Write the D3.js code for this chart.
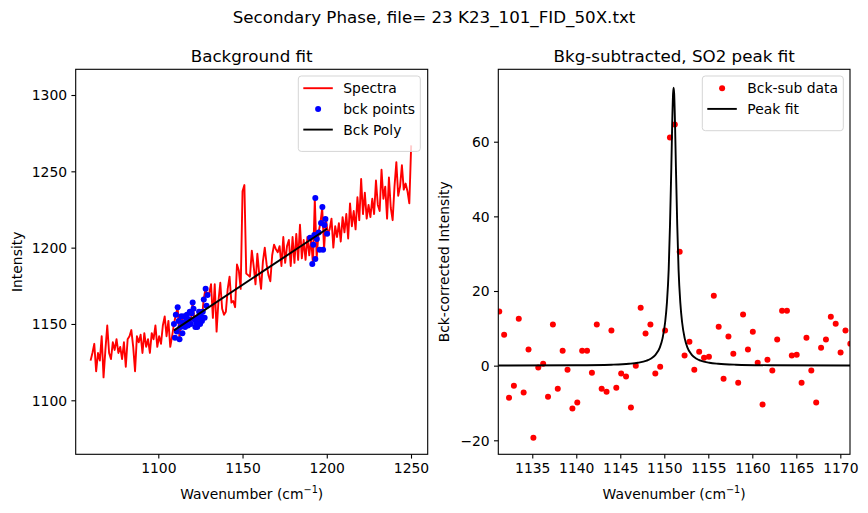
<!DOCTYPE html>
<html>
<head>
<meta charset="utf-8">
<script src="https://cdn.jsdelivr.net/npm/d3@7"></script>
<style>
    body { margin: 0; background: #fff; }
    svg text { font-family: "DejaVu Sans", sans-serif; fill: #000; }
</style>
</head>
<body>
<div id="chart"></div>
<script>

// == DATA == //
// full spectrum (left panel), evenly sampled wavenumber grid
const spectrumStart = 1059.8;
const spectrumStep = 1.1;
const spectrumIntensity = [
    1126, 1131, 1137, 1119, 1131, 1126, 1142, 1115, 1133, 1149,
    1131, 1127, 1138, 1133, 1140, 1131, 1135, 1127, 1138, 1122,
    1140, 1142, 1146, 1135, 1119, 1142, 1138, 1143, 1131, 1144,
    1135, 1140, 1131, 1144, 1140, 1149, 1135, 1142, 1137, 1149,
    1155, 1142, 1152, 1135, 1142,
    1150, 1156, 1161, 1140, 1155, 1151, 1148, 1156, 1153, 1150,
    1164, 1153, 1151, 1154, 1150, 1152, 1166, 1173, 1169, 1170,
    1176, 1154, 1176, 1145, 1165, 1177, 1160, 1156, 1158, 1173,
    1181, 1164, 1165, 1161, 1189, 1185, 1173, 1237, 1241, 1183,
    1182, 1181, 1198, 1188, 1176, 1196, 1183, 1173, 1191, 1200,
    1189, 1182, 1178, 1195, 1202, 1199, 1197,
    1201, 1188, 1207, 1190, 1201, 1205, 1188, 1207, 1190, 1209,
    1192, 1215, 1193, 1205, 1192, 1207, 1195,
    1206, 1189, 1232, 1193, 1210, 1216, 1226, 1199, 1219, 1209,
    1212, 1219, 1200, 1214, 1207, 1216, 1204, 1220, 1210, 1222,
    1206, 1229, 1214, 1224, 1212, 1233, 1218, 1245, 1222, 1236,
    1219, 1228, 1220, 1232, 1222, 1244, 1228, 1224, 1251, 1232,
    1240, 1219, 1246, 1226, 1218, 1240, 1256, 1234, 1240, 1254,
    1238, 1242, 1237, 1229, 1267
];

// background points
const bckWave = [
    1109.3, 1109.9, 1110.4, 1111.0, 1111.5, 1112.1, 1112.6, 1113.2, 1113.7, 1114.3,
    1114.8, 1115.4, 1115.9, 1116.5, 1117.0, 1117.6, 1118.2, 1118.7, 1119.3, 1119.8,
    1120.4, 1120.9, 1121.5, 1122.0, 1122.6, 1123.1, 1123.7, 1124.2, 1124.8, 1125.3,
    1125.9, 1126.4, 1127.0, 1127.5, 1128.1, 1128.6, 1129.2,
    1190.1, 1191.4, 1192.0, 1192.6, 1193.2, 1193.2, 1194.1, 1195.2, 1195.8, 1196.6,
    1197.4, 1197.8, 1198.6, 1199.2, 1200.2
];
const bckIntensity = [
    1150, 1141, 1156, 1145, 1161, 1152, 1140, 1148, 1155, 1144,
    1151, 1155, 1148, 1152, 1156, 1149, 1153, 1158, 1150, 1157,
    1164, 1160, 1153, 1148, 1151, 1148, 1154, 1158, 1150, 1155,
    1152, 1158, 1166, 1154, 1173, 1162, 1169,
    1206.5, 1189.3, 1201.9, 1208.3, 1232.5, 1192.6, 1205.7, 1210, 1198.7, 1216.1,
    1226.6, 1198.7, 1214.8, 1218.8, 1209.1
];

// background polynomial (linear)
const polyWave = [1109.3, 1200.2];
const polyIntensity = [1145.8, 1212.4];

// background-subtracted data (right panel)
const subStart = 1131.25;
const subStep = 0.554;
const subIntensity = [
    14.5, 8.3, -8.6, -5.4, 12.6, -7.2, 4.3, -19.3, -0.5, 0.5,
    -8.3, 11.0, -6.2, 4.0, -1.1, -11.5, -9.9, 4.0, 4.0, -1.9,
    11.0, -6.2, -7.0, 9.4, -5.9, -2.1, -2.9, -11.2, 0.0, 15.5,
    8.6, 11.0, -2.1, -0.3, 9.4, 61.1, 64.6, 30.5, 2.7, 6.4,
    -1.1, 3.7, 2.1, 2.4, 18.7, 10.4, -3.5, 7.8, 3.2, -4.6,
    13.7, 4.3, 9.1, 0.8, -10.4, 1.6, -1.3, 7.0, 14.7, 14.7,
    2.7, 2.9, -4.6, 7.5, -1.3, -9.9, 4.8, 7.0, 13.1, 11.2,
    3.5, 9.4, 5.9
];

// peak fit curve
const fitWave = [
    1131.14, 1140, 1144, 1146, 1147, 1148, 1148.5, 1149, 1149.5, 1149.8,
    1150.1, 1150.3, 1150.5, 1150.65, 1150.8, 1150.9, 1151.0, 1151.06, 1151.12, 1151.22,
    1151.32, 1151.47, 1151.62, 1151.82, 1152.02, 1152.32, 1152.62, 1153.12, 1153.62, 1154.12,
    1155.12, 1156.12, 1158.12, 1162, 1171.1
];
const fitIntensity = [
    0.03, 0.10, 0.26, 0.50, 0.77, 1.35, 1.92, 2.91, 4.90, 7.3,
    11.7, 16.9, 25.8, 37.8, 53.2, 64.9, 73.0, 74.5, 73.0, 64.9,
    53.2, 37.8, 25.8, 16.9, 11.7, 7.3, 4.9, 2.91, 1.92, 1.35,
    0.77, 0.50, 0.26, 0.11, 0.03
];

// ticks
const leftXTicks = [1100, 1150, 1200, 1250];
const leftYTicks = [1100, 1150, 1200, 1250, 1300];
const rightXTicks = [1135, 1140, 1145, 1150, 1155, 1160, 1165, 1170];
const rightYTicks = [-20, 0, 20, 40, 60];

const suptitle = "Secondary Phase, file= 23 K23_101_FID_50X.txt";

// == SVG == //
const width = 868, height = 513;
const fs = 13.9;      // tick / label font size
const tfs = 16.7;     // title font size
const lw = 1.9;       // line width

const svg = d3.select("#chart").append("svg")
    .attr("width", width)
    .attr("height", height);

svg.append("text")
    .attr("x", 434).attr("y", 23)
    .attr("text-anchor", "middle")
    .style("font-size", tfs + "px")
    .text(suptitle);

// build one panel
function makePanel(cfg) {
    let g = svg.append("g");

    let x = d3.scaleLinear().domain(cfg.xDomain).range([cfg.left, cfg.right]);
    let y = d3.scaleLinear().domain(cfg.yDomain).range([cfg.bottom, cfg.top]);

    // clip
    svg.append("defs").append("clipPath").attr("id", cfg.id + "-clip")
        .append("rect")
        .attr("x", cfg.left).attr("y", cfg.top)
        .attr("width", cfg.right - cfg.left).attr("height", cfg.bottom - cfg.top);

    let plot = g.append("g").attr("clip-path", `url(#${cfg.id}-clip)`);

    // axes
    let xAxis = d3.axisBottom(x).tickValues(cfg.xTicks).tickSize(4.3).tickPadding(4.3).tickFormat(d3.format("d"));
    let yAxis = d3.axisLeft(y).tickValues(cfg.yTicks).tickSize(4.3).tickPadding(4.3).tickFormat(d3.format("d"));

    let gx = g.append("g").attr("transform", `translate(0,${cfg.bottom})`).call(xAxis);
    let gy = g.append("g").attr("transform", `translate(${cfg.left},0)`).call(yAxis);
    [gx, gy].forEach(a => {
        a.select(".domain").remove();
        a.selectAll("line").attr("stroke", "#000").attr("stroke-width", 1.1);
        a.selectAll("text").style("font-size", fs + "px").attr("fill", "#000")
            .style("font-family", "DejaVu Sans, sans-serif");
    });
    gy.selectAll("text").attr("dy", "0.35em");
    gx.selectAll("text").attr("dy", "0.75em");

    // frame
    g.append("rect")
        .attr("x", cfg.left).attr("y", cfg.top)
        .attr("width", cfg.right - cfg.left).attr("height", cfg.bottom - cfg.top)
        .attr("fill", "none").attr("stroke", "#000").attr("stroke-width", 1.1);

    // title
    g.append("text")
        .attr("x", (cfg.left + cfg.right) / 2).attr("y", 62)
        .attr("text-anchor", "middle")
        .style("font-size", tfs + "px")
        .text(cfg.title);

    // x label with superscript
    let xl = g.append("text")
        .attr("x", (cfg.left + cfg.right) / 2).attr("y", 499)
        .attr("text-anchor", "middle")
        .style("font-size", fs + "px");
    xl.append("tspan").text("Wavenumber (cm");
    xl.append("tspan").attr("dy", -6).style("font-size", (fs * 0.7) + "px").text("\u22121");
    xl.append("tspan").attr("dy", 6).text(")");

    // y label
    g.append("text")
        .attr("transform", `translate(${cfg.yLabelX},${(cfg.top + cfg.bottom) / 2}) rotate(-90)`)
        .attr("text-anchor", "middle")
        .style("font-size", fs + "px")
        .text(cfg.yLabel);

    return {g, plot, x, y};
}

// legend
function makeLegend(g, bx, by, bw, items) {
    let bh = 9.3 + items.length * 20.7 + 4;
    g.append("rect")
        .attr("x", bx).attr("y", by).attr("width", bw).attr("height", bh)
        .attr("rx", 3)
        .attr("fill", "#fff").attr("fill-opacity", 0.8)
        .attr("stroke", "#d5d5d5").attr("stroke-width", 1);

    items.forEach((it, i) => {
        let cy = by + 12.2 + i * 20.7;
        if (it.type === "line") {
            g.append("line")
                .attr("x1", bx + 5).attr("x2", bx + 34.5)
                .attr("y1", cy).attr("y2", cy)
                .attr("stroke", it.color).attr("stroke-width", lw);
        } else {
            g.append("circle")
                .attr("cx", bx + 19.8).attr("cy", cy).attr("r", 3)
                .attr("fill", it.color);
        }
        g.append("text")
            .attr("x", bx + 45).attr("y", cy).attr("dy", "0.36em")
            .style("font-size", fs + "px")
            .text(it.label);
    });
}

// == LEFT PANEL: Background fit == //
let left = makePanel({
    id: "left",
    left: 75.7, right: 427.7, top: 69.3, bottom: 454.3,
    xDomain: [1050.97, 1259.91], yDomain: [1064.62, 1316.84],
    xTicks: leftXTicks, yTicks: leftYTicks,
    title: "Background fit", yLabel: "Intensity", yLabelX: 21.5
});

let spectrum = spectrumIntensity.map((v, i) => ({w: spectrumStart + i * spectrumStep, v: v}));
let lineGen = d3.line().x(d => left.x(d.w)).y(d => left.y(d.v));

left.plot.append("path")
    .datum(spectrum)
    .attr("d", lineGen)
    .attr("fill", "none").attr("stroke", "red").attr("stroke-width", lw)
    .attr("stroke-linejoin", "round");

left.plot.selectAll(".bck")
    .data(bckWave.map((w, i) => ({w: w, v: bckIntensity[i]})))
    .enter().append("circle")
    .attr("class", "bck")
    .attr("cx", d => left.x(d.w)).attr("cy", d => left.y(d.v)).attr("r", 3)
    .attr("fill", "blue");

left.plot.append("path")
    .datum(polyWave.map((w, i) => ({w: w, v: polyIntensity[i]})))
    .attr("d", lineGen)
    .attr("fill", "none").attr("stroke", "black").attr("stroke-width", lw);

makeLegend(left.g, 298.3, 76, 122, [
    {type: "line", color: "red", label: "Spectra"},
    {type: "dot", color: "blue", label: "bck points"},
    {type: "line", color: "black", label: "Bck Poly"}
]);

// == RIGHT PANEL: Bkg-subtracted, SO2 peak fit == //
let right = makePanel({
    id: "right",
    left: 498.3, right: 850, top: 69.3, bottom: 454.3,
    xDomain: [1131.14, 1171.1], yDomain: [-23.75, 79.4],
    xTicks: rightXTicks, yTicks: rightYTicks,
    title: "Bkg-subtracted, SO2 peak fit", yLabel: "Bck-corrected Intensity", yLabelX: 449
});

right.plot.selectAll(".sub")
    .data(subIntensity.map((v, i) => ({w: subStart + i * subStep, v: v})))
    .enter().append("circle")
    .attr("class", "sub")
    .attr("cx", d => right.x(d.w)).attr("cy", d => right.y(d.v)).attr("r", 3)
    .attr("fill", "red");

right.plot.append("path")
    .datum(fitWave.map((w, i) => ({w: w, v: fitIntensity[i]})))
    .attr("d", d3.line().curve(d3.curveMonotoneX).x(d => right.x(d.w)).y(d => right.y(d.v)))
    .attr("fill", "none").attr("stroke", "black").attr("stroke-width", lw);

makeLegend(right.g, 702.3, 76, 141, [
    {type: "dot", color: "red", label: "Bck-sub data"},
    {type: "line", color: "black", label: "Peak fit"}
]);

</script>
</body>
</html>
